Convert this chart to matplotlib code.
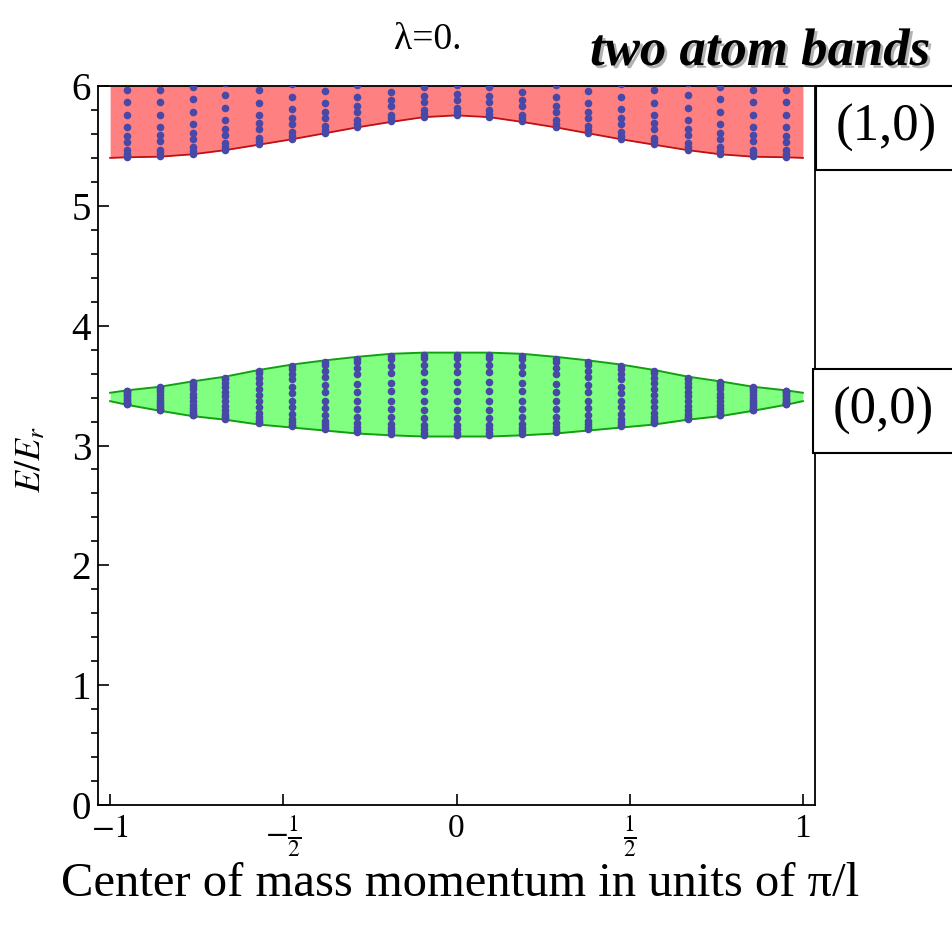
import numpy as np
import matplotlib
matplotlib.use("Agg")
import matplotlib.pyplot as plt
import matplotlib.patheffects as pe
from matplotlib.patches import Rectangle
from matplotlib.ticker import MultipleLocator

plt.rcParams["font.family"] = ["Liberation Serif", "DejaVu Serif"]
plt.rcParams["mathtext.fontset"] = "stix"

# band edges sampled at k = +-1 and at the 21 lattice momenta 2j/21
edge_k = [-1.0, -0.952, -0.857, -0.762, -0.667, -0.571, -0.476, -0.381, -0.286, -0.190, -0.095, 0.0,
          0.095, 0.190, 0.286, 0.381, 0.476, 0.571, 0.667, 0.762, 0.857, 0.952, 1.0]

# (0,0) band
green_top = [3.44, 3.46, 3.49, 3.535, 3.575, 3.63, 3.675, 3.71, 3.74, 3.765, 3.775, 3.775,
             3.775, 3.765, 3.74, 3.71, 3.675, 3.63, 3.575, 3.535, 3.49, 3.46, 3.44]
green_bot = [3.37, 3.34, 3.29, 3.245, 3.215, 3.175, 3.15, 3.125, 3.10, 3.085, 3.075, 3.075,
             3.075, 3.085, 3.10, 3.125, 3.15, 3.175, 3.215, 3.245, 3.29, 3.34, 3.37]

# (1,0) band, lower edge only (top is above the plot range)
red_bot = [5.40, 5.405, 5.41, 5.43, 5.465, 5.51, 5.555, 5.605, 5.655, 5.70, 5.74, 5.755,
           5.74, 5.70, 5.655, 5.605, 5.555, 5.51, 5.465, 5.43, 5.41, 5.405, 5.40]

# positions of the discrete levels inside each column
green_levels = [0.02, 0.047, 0.09, 0.141, 0.22, 0.32, 0.427, 0.547, 0.646, 0.77, 0.856, 0.936, 0.976]
red_levels = [0.005, 0.03, 0.06, 0.13, 0.18, 0.25, 0.35, 0.46, 0.56, 0.66, 0.78]

xticks = [-1, -0.5, 0, 0.5, 1]
xticklabels = [r"$-1$", r"$-\frac{1}{2}$", "0", r"$\frac{1}{2}$", "1"]
yticks = [0, 1, 2, 3, 4, 5, 6]

dot_color = "#4848a8"


def main():
    fig = plt.figure(figsize=(9.52, 9.31), dpi=100)
    ax = fig.add_axes([98 / 952, 1 - 805 / 931, (815 - 98) / 952, (805 - 86) / 931])

    k = np.array(edge_k)
    gt = np.array(green_top)
    gb = np.array(green_bot)
    rb = np.array(red_bot)

    ax.fill_between(k, rb, 6.5, color="#ff8080", lw=0)
    ax.plot(k, rb, color="#c01010", lw=1.3)
    ax.fill_between(k, gb, gt, color="#80ff80", lw=0)
    ax.plot(k, gt, color="#10a010", lw=1.4)
    ax.plot(k, gb, color="#10a010", lw=1.4)

    # levels at each lattice momentum
    gl = np.array(green_levels)
    rl = np.array(red_levels)
    for i in range(1, len(edge_k) - 1):
        e_g = gb[i] + gl * (gt[i] - gb[i])
        ax.scatter(np.full_like(e_g, k[i]), e_g, s=30, color=dot_color, lw=0, zorder=3)
        e_r = rb[i] + rl
        ax.scatter(np.full_like(e_r, k[i]), e_r, s=30, color=dot_color, lw=0, zorder=3)

    ax.set_xlim(-1.035, 1.035)
    ax.set_ylim(0, 6)
    ax.set_xticks(xticks)
    ax.set_xticklabels(xticklabels)
    ax.set_yticks(yticks)
    ax.yaxis.set_minor_locator(MultipleLocator(0.2))
    ax.tick_params(axis="both", direction="in", width=1.2, color="black")
    ax.tick_params(axis="y", which="major", length=8, labelsize=28, pad=5)
    ax.tick_params(axis="y", which="minor", length=5, width=1.2)
    ax.tick_params(axis="x", which="major", length=8, pad=6, labelsize=24)
    for s in ax.spines.values():
        s.set_linewidth(1.3)

    fig.text(428 / 952, 1 - 40 / 931, "λ=0.", fontsize=27, ha="center", va="center")
    fig.text(930 / 952, 1 - 52 / 931, "two atom bands", fontsize=38, ha="right", va="center",
             fontweight="bold", fontstyle="italic",
             path_effects=[pe.SimplePatchShadow(offset=(2, -2), shadow_rgbFace="0.4", alpha=0.5),
                           pe.Normal()])
    fig.text(31 / 952, 1 - 460 / 931, r"$E/E_r$", fontsize=26, rotation=90, ha="center", va="center")
    fig.text(460 / 952, 1 - 884 / 931, "Center of mass momentum in units of π/l", fontsize=35,
             ha="center", va="center")

    # band labels to the right of the frame
    for top, bottom, left, label in [(86, 170, 816, "(1,0)"), (369, 453, 813, "(0,0)")]:
        fig.patches.append(Rectangle((left / 952, 1 - bottom / 931), (970 - left) / 952,
                                     (bottom - top) / 931, transform=fig.transFigure,
                                     facecolor="white", edgecolor="black", lw=1.5))
        fig.text((left + 70) / 952, 1 - (top + bottom) / 2 / 931, label, fontsize=38,
                 ha="center", va="center")

    fig.savefig("out.png", dpi=100)


if __name__ == "__main__":
    main()
